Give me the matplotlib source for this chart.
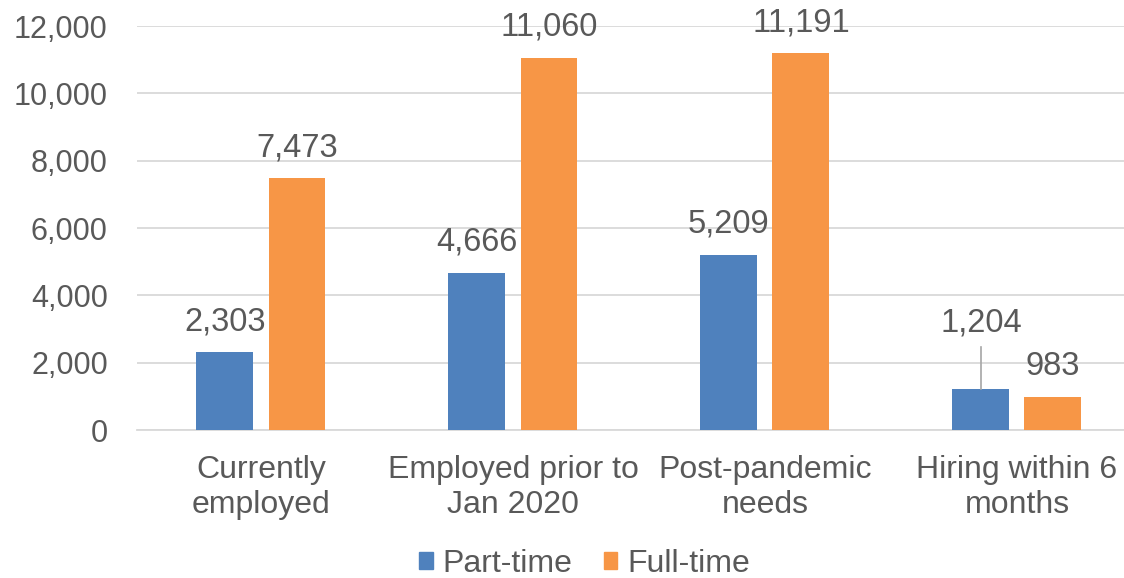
import numpy as np
import matplotlib.pyplot as plt
from matplotlib.patches import Patch

plt.rcParams['font.family'] = ['Liberation Sans', 'DejaVu Sans']

categories = ['Currently\nemployed', 'Employed prior to\nJan 2020', 'Post-pandemic\nneeds', 'Hiring within 6\nmonths']
part_time = [2303, 4666, 5209, 1204]
full_time = [7473, 11060, 11191, 983]
series_names = ['Part-time', 'Full-time']

blue = '#4F81BD'
orange = '#F79646'
txt = '#595959'
grid = '#D9D9D9'

fig = plt.figure(figsize=(11.24, 5.78), dpi=100)
ax = fig.add_axes([137 / 1124, 0.256, 1 - 137 / 1124, 0.699])

x = np.arange(len(categories))
w = 0.226
off = 0.143
ax.bar(x - off, part_time, w, color=blue, zorder=3)
ax.bar(x + off, full_time, w, color=orange, zorder=3)

ax.set_xlim(-0.492, 3.425)
ax.set_ylim(0, 12000)
ax.set_yticks(range(0, 12001, 2000))
ax.set_yticklabels([f'{v:,}' for v in range(0, 12001, 2000)])
ax.grid(axis='y', color=grid, linewidth=1.3, zorder=0)
for s in ['top', 'right', 'left']:
    ax.spines[s].set_visible(False)
ax.spines['bottom'].set_color(grid)
ax.spines['bottom'].set_linewidth(1.3)
ax.tick_params(axis='y', length=0, pad=21, labelsize=22, labelcolor=txt)
ax.tick_params(axis='x', length=0, pad=18, labelsize=23, labelcolor=txt)
ax.set_xticks(x)
ax.set_xticklabels(categories, linespacing=1.22)

# data labels
for i in range(len(categories)):
    if i == 3:
        # last part-time label moved up with leader line
        ax.plot([x[i] - off, x[i] - off], [part_time[i], 2480], color='#A6A6A6', lw=1.2, zorder=4)
        ax.text(x[i] - off, 3180, f'{part_time[i]:,}', ha='center', va='center', fontsize=23.5, color=txt)
    else:
        ax.annotate(f'{part_time[i]:,}', (x[i] - off, part_time[i]), xytext=(0, 22),
                    textcoords='offset points', ha='center', va='center', fontsize=23.5, color=txt)
    ax.annotate(f'{full_time[i]:,}', (x[i] + off, full_time[i]), xytext=(0, 22),
                textcoords='offset points', ha='center', va='center', fontsize=23.5, color=txt)

handles = [Patch(color=blue), Patch(color=orange)]
fig.legend(handles, series_names, loc='center', bbox_to_anchor=(0.52, 0.024), ncol=2,
           frameon=False, fontsize=23, labelcolor=txt, handlelength=0.42, handleheight=0.42,
           handletextpad=0.3, columnspacing=1.0)

fig.savefig('out.png', dpi=100)
